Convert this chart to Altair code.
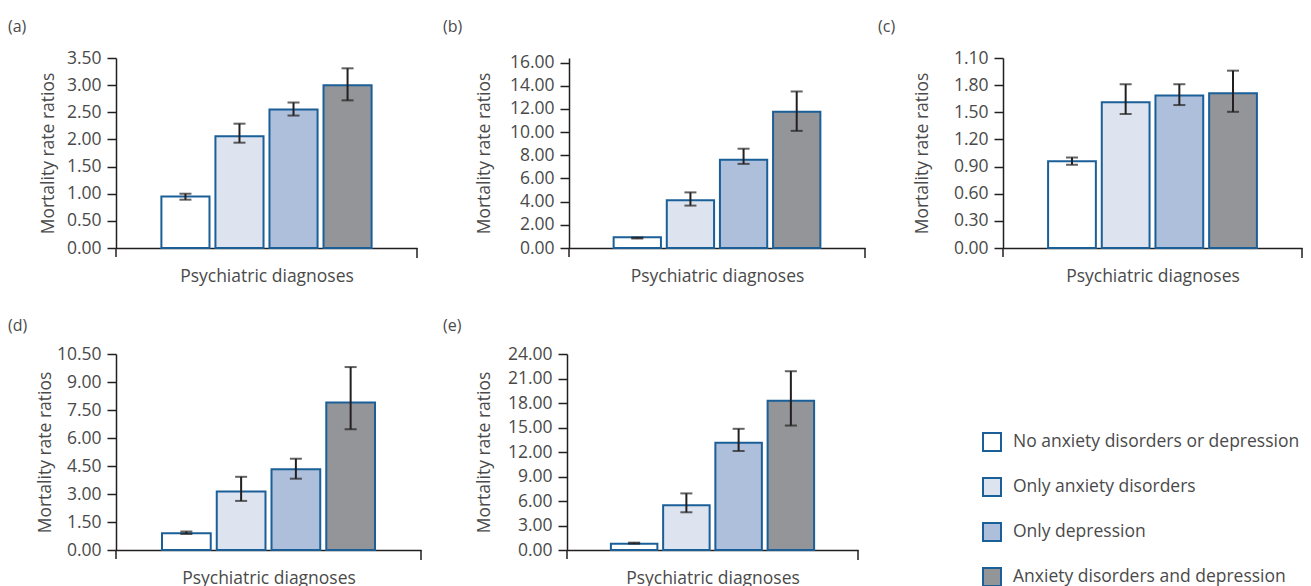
import altair as alt
import pandas as pd

categories = [
    "No anxiety disorders or depression",
    "Only anxiety disorders",
    "Only depression",
    "Anxiety disorders and depression",
]
fill_colors = ["#ffffff", "#dde3ef", "#adbfdb", "#939598"]

# (a)
values_a = [0.95, 2.06, 2.55, 3.00]
low_a = [0.89, 1.94, 2.44, 2.72]
high_a = [1.00, 2.29, 2.68, 3.31]
ticks_a = [0.0, 0.5, 1.0, 1.5, 2.0, 2.5, 3.0, 3.5]
labels_a = ["0.00", "0.50", "1.00", "1.50", "2.00", "2.50", "3.00", "3.50"]

# (b)
values_b = [0.92, 4.12, 7.62, 11.77]
low_b = [0.82, 3.66, 7.26, 10.11]
high_b = [0.90, 4.80, 8.57, 13.51]
ticks_b = [0, 2, 4, 6, 8, 10, 12, 14, 16]
labels_b = ["0.00", "2.00", "4.00", "6.00", "8.00", "10.00", "12.00", "14.00", "16.00"]

# (c)
values_c = [0.96, 1.61, 1.685, 1.71]
low_c = [0.92, 1.48, 1.58, 1.505]
high_c = [1.00, 1.81, 1.81, 1.96]
ticks_c = [0.0, 0.3, 0.6, 0.9, 1.2, 1.5, 1.8, 2.1]
labels_c = ["0.00", "0.30", "0.60", "0.90", "1.20", "1.50", "1.80", "1.10"]

# (d)
values_d = [0.90, 3.14, 4.32, 7.90]
low_d = [0.86, 2.63, 3.82, 6.47]
high_d = [0.99, 3.92, 4.89, 9.80]
ticks_d = [0.0, 1.5, 3.0, 4.5, 6.0, 7.5, 9.0, 10.5]
labels_d = ["0.00", "1.50", "3.00", "4.50", "6.00", "7.50", "9.00", "10.50"]

# (e)
values_e = [0.77, 5.47, 13.13, 18.28]
low_e = [0.78, 4.62, 12.12, 15.24]
high_e = [0.90, 6.93, 14.84, 21.89]
ticks_e = [0, 3, 6, 9, 12, 15, 18, 21, 24]
labels_e = ["0.00", "3.00", "6.00", "9.00", "12.00", "15.00", "18.00", "21.00", "24.00"]

y_title = "Mortality rate ratios"
x_title = "Psychiatric diagnoses"

FONT = "Open Sans"
FS = 17.5
TEXT = "#4a4a4a"
AXIS = "#231f20"
STROKE = "#1b5f98"


def label_expr(ticks, labels):
    expr = "''"
    for v, l in reversed(list(zip(ticks, labels))):
        expr = f"abs(datum.value - {v}) < 1e-6 ? '{l}' : ({expr})"
    return expr


def panel(name, values, low, high, ticks, labels, ymax, w, h, tdx, toff, ypad):
    df = pd.DataFrame({"cat": categories, "value": values, "low": low, "high": high})
    xscale = alt.Scale(paddingInner=0.11, paddingOuter=0.84)
    xaxis = alt.Axis(labels=False, ticks=False, title=x_title, titlePadding=19,
                     minExtent=0, maxExtent=0)
    xenc = alt.X("cat:N", sort=categories, scale=xscale, axis=xaxis, title=x_title)
    yscale = alt.Scale(domain=[0, ymax], nice=False, zero=True)
    yaxis = alt.Axis(values=ticks, labelExpr=label_expr(ticks, labels),
                     title=y_title, titlePadding=ypad, tickSize=9,
                     labelPadding=6, minExtent=50, maxExtent=50,
                     labelOverlap=False)

    def yenc(field):
        return alt.Y(field, scale=yscale, axis=yaxis, title=y_title)

    base = alt.Chart(df)
    bars = base.mark_bar(stroke=STROKE, strokeWidth=2).encode(
        x=xenc,
        y=yenc("value:Q"),
        fill=alt.Fill("cat:N", sort=categories,
                      scale=alt.Scale(domain=categories, range=fill_colors),
                      legend=alt.Legend(title=None, orient="none", legendX=866, legendY=374,
                                        symbolType="square", symbolSize=324,
                                        symbolStrokeColor=STROKE, symbolStrokeWidth=2,
                                        labelFontSize=FS, labelFont=FONT, labelColor=TEXT,
                                        rowPadding=19, labelOffset=11, padding=0,
                                        labelLimit=400)),
    )
    err = base.mark_rule(color=AXIS, strokeWidth=2).encode(
        x=xenc, y=yenc("low:Q"), y2="high:Q",
    )
    caps_lo = base.mark_tick(color=AXIS, thickness=2, size=12).encode(
        x=xenc, y=yenc("low:Q"))
    caps_hi = base.mark_tick(color=AXIS, thickness=2, size=12).encode(
        x=xenc, y=yenc("high:Q"))
    one = alt.Chart(pd.DataFrame({"k": [0]}))
    ext_left = one.mark_rule(color=AXIS, strokeWidth=1.5).encode(
        x=alt.value(0), y=alt.value(h), y2=alt.value(h + 9))
    ext_right = one.mark_rule(color=AXIS, strokeWidth=1.5).encode(
        x=alt.value(w), y=alt.value(h), y2=alt.value(h + 10))
    return alt.layer(bars, err, caps_lo, caps_hi, ext_left, ext_right).properties(
        width=w, height=h,
        title=alt.TitleParams(name, anchor="start", frame="group", dx=tdx, offset=toff,
                              font=FONT, fontSize=16, fontWeight="normal", color=TEXT),
    )


A = panel("(a)", values_a, low_a, high_a, ticks_a, labels_a, 3.5, 301, 190, -108, 14, 9)
B = panel("(b)", values_b, low_b, high_b, ticks_b, labels_b, 16.4, 296, 190, -126, 19, 26)
C = panel("(c)", values_c, low_c, high_c, ticks_c, labels_c, 2.1, 299, 190, -125, 14, 22)
D = panel("(d)", values_d, low_d, high_d, ticks_d, labels_d, 10.5, 305, 196, -108, 11, 12)
E = panel("(e)", values_e, low_e, high_e, ticks_e, labels_e, 24, 291, 196, -124, 11, 24)

row1 = alt.hconcat(A, alt.hconcat(B, C, spacing=12), spacing=25)
row2 = alt.hconcat(D, E, spacing=21)

chart = alt.vconcat(row1, row2, spacing=33).properties(
    padding={"left": 0, "top": 10, "right": 0, "bottom": 0}
).configure(font=FONT).configure_axis(
    labelFont=FONT, labelFontSize=FS, labelColor=TEXT,
    titleFont=FONT, titleFontSize=FS, titleFontWeight="normal", titleColor=TEXT,
    domainColor=AXIS, domainWidth=1.5, tickColor=AXIS, tickWidth=1.5, grid=False,
).configure_view(stroke=None)

chart.save("out.html", embed_options={"renderer": "svg", "actions": False})
